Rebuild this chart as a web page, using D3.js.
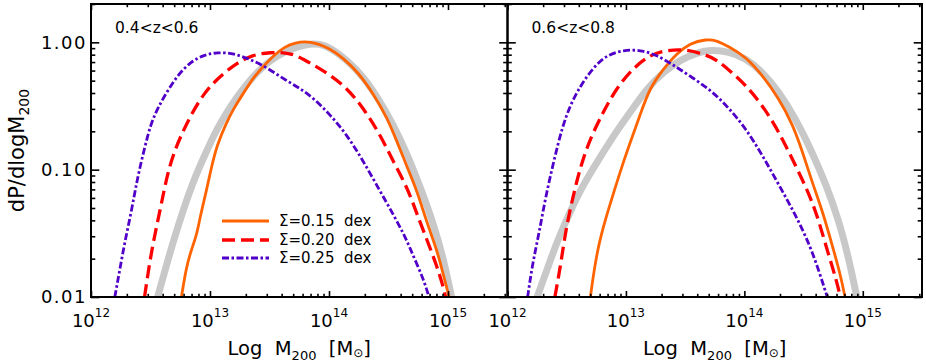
<!DOCTYPE html>
<html>
<head>
<meta charset="utf-8">
<script src="https://cdn.jsdelivr.net/npm/d3@7"></script>
<style>
  body { margin: 0; background: #fff; }
  svg { display: block; font-family: 'DejaVu Sans', sans-serif; }
</style>
</head>
<body>
<svg width="926" height="362"></svg>
<script>
// labels
const panelLabels = ['0.4<z<0.6', '0.6<z<0.8'];
const legendLabels = ['\u03A3=0.15  dex', '\u03A3=0.20  dex', '\u03A3=0.25  dex'];
const xTickExps = [12, 13, 14, 15];
const yTickValues = [0.01, 0.1, 1];
const yTickLabels = ['0.01', '0.10', '1.00'];

// [log M200, dP/dlogM200]
// 0.4<z<0.6
const lowZ_gray = [[12.56,0.010],[12.62,0.016],[12.70,0.029],[12.78,0.050],[12.87,0.086],[12.97,0.139],[13.06,0.212],[13.18,0.323],[13.29,0.450],[13.40,0.589],[13.51,0.728],[13.63,0.845],[13.74,0.925],[13.84,0.975],[13.92,0.975],[14.01,0.908],[14.15,0.728],[14.29,0.538],[14.43,0.343],[14.54,0.225],[14.66,0.131],[14.77,0.0718],[14.88,0.0371],[14.96,0.0203],[15.03,0.010]];
const lowZ_s15 = [[12.76,0.010],[12.80,0.017],[12.84,0.023],[12.89,0.031],[12.92,0.044],[12.97,0.068],[13.01,0.103],[13.06,0.157],[13.13,0.225],[13.20,0.304],[13.29,0.411],[13.37,0.538],[13.46,0.664],[13.54,0.796],[13.63,0.925],[13.71,0.993],[13.84,1.03],[14.01,0.897],[14.12,0.750],[14.24,0.589],[14.38,0.386],[14.49,0.254],[14.57,0.167],[14.66,0.103],[14.74,0.068],[14.82,0.039],[14.91,0.023],[14.96,0.015],[15.01,0.010]];
const lowZ_s20 = [[12.45,0.010],[12.49,0.018],[12.53,0.029],[12.59,0.053],[12.64,0.091],[12.70,0.139],[12.76,0.188],[12.84,0.270],[12.95,0.399],[13.06,0.516],[13.20,0.664],[13.35,0.796],[13.51,0.836],[13.64,0.830],[13.73,0.790],[13.87,0.664],[14.01,0.555],[14.15,0.437],[14.29,0.304],[14.43,0.188],[14.54,0.116],[14.66,0.0718],[14.74,0.0445],[14.85,0.0243],[14.94,0.0142],[14.98,0.010]];
const lowZ_s25 = [[12.20,0.010],[12.24,0.016],[12.28,0.0259],[12.34,0.0472],[12.39,0.086],[12.45,0.148],[12.50,0.225],[12.56,0.304],[12.64,0.411],[12.73,0.555],[12.84,0.706],[12.95,0.796],[13.06,0.836],[13.20,0.820],[13.35,0.728],[13.49,0.625],[13.63,0.507],[13.75,0.440],[13.87,0.364],[14.01,0.270],[14.15,0.188],[14.29,0.116],[14.43,0.0676],[14.54,0.0445],[14.63,0.031],[14.68,0.0243],[14.74,0.018],[14.80,0.0133],[14.84,0.010]];
// 0.6<z<0.8
const highZ_gray = [[12.25,0.010],[12.34,0.017],[12.42,0.0275],[12.53,0.0472],[12.64,0.0764],[12.76,0.116],[12.90,0.188],[13.04,0.286],[13.18,0.437],[13.32,0.589],[13.46,0.728],[13.60,0.830],[13.72,0.875],[13.87,0.845],[14.01,0.750],[14.15,0.589],[14.29,0.411],[14.43,0.254],[14.57,0.139],[14.69,0.0764],[14.80,0.0394],[14.88,0.0203],[14.95,0.010]];
const highZ_s15 = [[12.70,0.010],[12.73,0.016],[12.77,0.0259],[12.83,0.0418],[12.90,0.0676],[12.97,0.109],[13.04,0.167],[13.12,0.270],[13.20,0.437],[13.32,0.625],[13.43,0.820],[13.54,0.982],[13.68,1.06],[13.76,1.04],[13.87,0.925],[14.01,0.773],[14.15,0.555],[14.29,0.364],[14.41,0.225],[14.49,0.139],[14.57,0.081],[14.66,0.0472],[14.74,0.0259],[14.81,0.0151],[14.85,0.010]];
const highZ_s20 = [[12.40,0.010],[12.45,0.018],[12.49,0.0329],[12.55,0.060],[12.62,0.109],[12.70,0.177],[12.81,0.286],[12.92,0.437],[13.06,0.625],[13.20,0.796],[13.35,0.871],[13.51,0.881],[13.68,0.796],[13.77,0.728],[13.90,0.571],[14.01,0.463],[14.15,0.323],[14.29,0.200],[14.43,0.109],[14.55,0.0637],[14.63,0.0394],[14.71,0.0216],[14.78,0.0133],[14.81,0.010]];
const highZ_s25 = [[12.17,0.010],[12.21,0.018],[12.27,0.0329],[12.32,0.060],[12.39,0.116],[12.46,0.212],[12.53,0.323],[12.62,0.463],[12.73,0.644],[12.84,0.796],[12.98,0.871],[13.12,0.871],[13.26,0.796],[13.40,0.664],[13.57,0.522],[13.73,0.411],[13.87,0.304],[14.01,0.212],[14.15,0.131],[14.29,0.0764],[14.43,0.0445],[14.55,0.0259],[14.63,0.016],[14.70,0.010]];

const panelData = [
    [lowZ_gray, lowZ_s15, lowZ_s20, lowZ_s25],
    [highZ_gray, highZ_s15, highZ_s20, highZ_s25]
];

// line styles: gray model, then the three sigmas
const styles = [
    {color: '#c8c8c8', width: 7, dash: null},
    {color: '#ff6400', width: 2.8, dash: null},
    {color: '#ff0000', width: 3.3, dash: '13,6'},
    {color: '#5000c8', width: 2.8, dash: '7,2.5,2.5,2.5'}
];

const plotTop = 4, plotBottom = 297;
const panelRanges = [[91, 507.5], [507.5, 922]];

const yScale = d3.scaleLog()
    .domain([0.01, 2])
    .range([plotBottom, plotTop]);

// minor ticks at k * 10^n
const xMinor = [];
for (let e = 12; e <= 15; e++)
    for (let k = 2; k <= 9; k++)
        if (e + Math.log10(k) <= 15.5) xMinor.push(e + Math.log10(k));
const yMinor = [];
for (let p = -2; p <= 0; p++)
    for (let k = 2; k <= 9; k++)
        if (k * Math.pow(10, p) <= 2) yMinor.push(k * Math.pow(10, p));

const svg = d3.select('svg');

panelRanges.forEach((range, i) => {
    const xScale = d3.scaleLinear()
        .domain([12, 15.5])
        .range(range);
    const g = svg.append('g');
    const w = range[1] - range[0], h = plotBottom - plotTop;

    g.append('clipPath').attr('id', 'clip' + i)
        .append('rect')
        .attr('x', range[0]).attr('y', plotTop)
        .attr('width', w).attr('height', h);

    const line = d3.line()
        .x(d => xScale(d[0]))
        .y(d => yScale(d[1]))
        .curve(d3.curveBasis);

    g.append('g').attr('clip-path', `url(#clip${i})`)
        .selectAll('path')
        .data(panelData[i])
        .enter()
        .append('path')
        .attr('d', line)
        .attr('fill', 'none')
        .attr('stroke', (d, j) => styles[j].color)
        .attr('stroke-width', (d, j) => styles[j].width)
        .attr('stroke-dasharray', (d, j) => styles[j].dash);

    // ticks, pointing inward on all four sides
    const xMajLen = 6, xMinLen = 3.2, yMajLen = 8.3, yMinLen = 4.3;
    const addAxis = (axis, transform) => {
        const a = g.append('g').attr('transform', transform).call(axis);
        a.select('.domain').remove();
        a.selectAll('line').attr('stroke', '#000').attr('stroke-width', 1.6);
    };
    addAxis(d3.axisBottom(xScale).tickValues(xTickExps).tickSize(-xMajLen).tickFormat(''), `translate(0,${plotBottom})`);
    addAxis(d3.axisBottom(xScale).tickValues(xMinor).tickSize(-xMinLen).tickFormat(''), `translate(0,${plotBottom})`);
    addAxis(d3.axisTop(xScale).tickValues(xTickExps).tickSize(-xMajLen).tickFormat(''), `translate(0,${plotTop})`);
    addAxis(d3.axisTop(xScale).tickValues(xMinor).tickSize(-xMinLen).tickFormat(''), `translate(0,${plotTop})`);
    addAxis(d3.axisLeft(yScale).tickValues(yTickValues).tickSize(-yMajLen).tickFormat(''), `translate(${range[0]},0)`);
    addAxis(d3.axisLeft(yScale).tickValues(yMinor).tickSize(-yMinLen).tickFormat(''), `translate(${range[0]},0)`);
    addAxis(d3.axisRight(yScale).tickValues(yTickValues).tickSize(-yMajLen).tickFormat(''), `translate(${range[1]},0)`);
    addAxis(d3.axisRight(yScale).tickValues(yMinor).tickSize(-yMinLen).tickFormat(''), `translate(${range[1]},0)`);

    // frame
    g.append('rect')
        .attr('x', range[0]).attr('y', plotTop)
        .attr('width', w).attr('height', h)
        .attr('fill', 'none')
        .attr('stroke', '#000')
        .attr('stroke-width', 2);

    // x tick labels 10^n
    const xl = g.selectAll('.xlab')
        .data(xTickExps)
        .enter()
        .append('text')
        .classed('xlab', true)
        .attr('x', d => xScale(d))
        .attr('y', 327)
        .attr('text-anchor', 'middle')
        .style('font-size', '18px');
    xl.append('tspan').text('10');
    xl.append('tspan').attr('dy', -10).style('font-size', '12px').text(d => d);

    // x title
    const xt = g.append('text')
        .attr('x', (range[0] + range[1]) / 2)
        .attr('y', 355)
        .attr('text-anchor', 'middle')
        .style('font-size', '19.5px')
        .style('white-space', 'pre');
    xt.append('tspan').text('Log  M');
    xt.append('tspan').attr('dy', 5).style('font-size', '13px').text('200');
    xt.append('tspan').attr('dy', -5).text('  [M');
    xt.append('tspan').attr('dy', 2).style('font-size', '12px').text('\u2299');
    xt.append('tspan').attr('dy', -2).text(']');

    g.append('text')
        .attr('x', range[0] + 24)
        .attr('y', 33)
        .style('font-size', '15.5px')
        .text(panelLabels[i]);
});

// y tick labels, left panel only
svg.selectAll('.ylab')
    .data(yTickValues)
    .enter()
    .append('text')
    .classed('ylab', true)
    .attr('x', 87)
    .attr('y', d => yScale(d))
    .attr('dy', '0.36em')
    .attr('text-anchor', 'end')
    .style('font-size', '18px')
    .style('letter-spacing', '1.5px')
    .text((d, i) => yTickLabels[i]);

// y title
const yt = svg.append('text')
    .attr('transform', `translate(24,${(plotTop + plotBottom) / 2}) rotate(-90)`)
    .attr('text-anchor', 'middle')
    .style('font-size', '21px');
yt.append('tspan').text('dP/dlogM');
yt.append('tspan').attr('dy', 5).style('font-size', '14px').text('200');

// legend
const legend = svg.append('g');
const rows = [221, 240, 258];
legend.selectAll('line')
    .data(legendLabels)
    .enter()
    .append('line')
    .attr('x1', 222).attr('x2', 269)
    .attr('y1', (d, i) => rows[i]).attr('y2', (d, i) => rows[i])
    .attr('stroke', (d, i) => styles[i + 1].color)
    .attr('stroke-width', (d, i) => styles[i + 1].width)
    .attr('stroke-dasharray', (d, i) => styles[i + 1].dash);
legend.selectAll('text')
    .data(legendLabels)
    .enter()
    .append('text')
    .attr('x', 279)
    .attr('y', (d, i) => rows[i])
    .attr('dy', '0.36em')
    .style('font-size', '15px')
    .style('white-space', 'pre')
    .text(d => d);
</script>
</body>
</html>
